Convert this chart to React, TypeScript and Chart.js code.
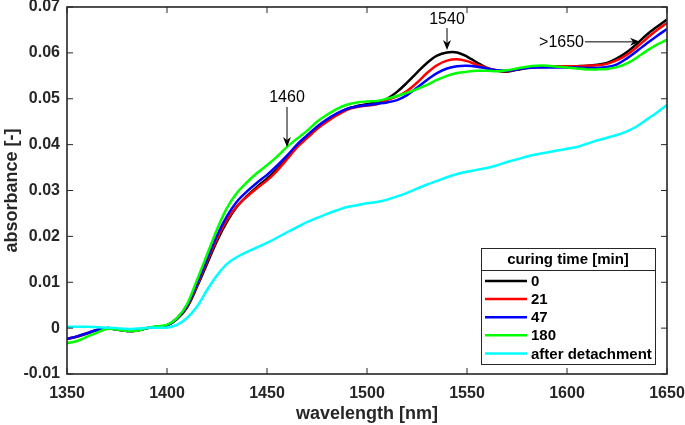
import React, { useEffect, useRef } from "react";
import { Chart, registerables } from "chart.js";

Chart.register(...registerables);

const wavelengths = [
  1350, 1355, 1360, 1365, 1370, 1375, 1380, 1385, 1390, 1395,
  1400, 1405, 1410, 1415, 1420, 1425, 1430, 1435, 1440, 1445,
  1450, 1455, 1460, 1465, 1470, 1475, 1480, 1485, 1490, 1495,
  1500, 1505, 1510, 1515, 1520, 1525, 1530, 1535, 1540, 1545,
  1550, 1555, 1560, 1565, 1570, 1575, 1580, 1585, 1590, 1595,
  1600, 1605, 1610, 1615, 1620, 1625, 1630, 1635, 1640, 1645,
  1650,
];

const abs0min = [
  -0.0024, -0.0019, -0.0012, -0.0004, 0.0, -0.0003, -0.0006, -0.0005, 0.0, 0.0003,
  0.0006, 0.002, 0.0045, 0.009, 0.014, 0.019, 0.0232, 0.0265, 0.0288, 0.0308,
  0.0326, 0.0346, 0.037, 0.0397, 0.0418, 0.0437, 0.0453, 0.0467, 0.0478, 0.0484,
  0.0488, 0.0493, 0.05, 0.0515, 0.0535, 0.0557, 0.0578, 0.0594, 0.0601, 0.0601,
  0.0592, 0.0579, 0.0567, 0.0561, 0.0559, 0.0563, 0.0567, 0.0569, 0.057, 0.057,
  0.057, 0.0571, 0.0572, 0.0574, 0.0578, 0.0588, 0.0602, 0.062, 0.064, 0.0657,
  0.0673,
];

const abs21min = [
  -0.0023, -0.0018, -0.0011, -0.0004, 0.0, -0.0003, -0.0006, -0.0005, 0.0, 0.0003,
  0.0006, 0.0021, 0.0047, 0.0093, 0.0145, 0.0195, 0.0236, 0.0266, 0.0287, 0.0305,
  0.0322, 0.0343, 0.0368, 0.0394, 0.0414, 0.0434, 0.045, 0.0464, 0.0476, 0.0482,
  0.0485, 0.0488, 0.0497, 0.0505, 0.0517, 0.0535, 0.0556, 0.0573, 0.0583, 0.0586,
  0.0582, 0.0574, 0.0567, 0.0562, 0.056, 0.0564, 0.0568, 0.057, 0.0571, 0.0571,
  0.0571, 0.0571, 0.0572, 0.0573, 0.0576, 0.0584, 0.0596, 0.0613, 0.0632, 0.065,
  0.0665,
];

const abs47min = [
  -0.0023, -0.0018, -0.0011, -0.0004, 0.0, -0.0003, -0.0006, -0.0005, 0.0, 0.0003,
  0.0006, 0.0021, 0.0049, 0.0097, 0.015, 0.0202, 0.0244, 0.0276, 0.0298, 0.0317,
  0.0334, 0.0354, 0.0376, 0.04, 0.042, 0.0439, 0.0455, 0.0468, 0.0478, 0.0483,
  0.0486, 0.0489, 0.0492, 0.0497, 0.0508, 0.0524, 0.0541, 0.0556, 0.0566, 0.0571,
  0.0572, 0.057, 0.0566, 0.0562, 0.0561, 0.0564, 0.0567, 0.0568, 0.0568, 0.0568,
  0.0568, 0.0568, 0.0567, 0.0567, 0.0569, 0.0575, 0.0588, 0.0604, 0.0621, 0.0637,
  0.0652,
];

const abs180min = [
  -0.0033, -0.0028, -0.0019, -0.001, -0.0002, -0.0003, -0.0006, -0.0006, 0.0, 0.0004,
  0.0007, 0.0022, 0.0052, 0.0105, 0.016, 0.0215, 0.0262, 0.0295, 0.0318, 0.0338,
  0.0355, 0.0374, 0.0395, 0.0413, 0.043, 0.045, 0.0465, 0.0478, 0.0487, 0.0492,
  0.0494, 0.0495, 0.05, 0.0506, 0.0513, 0.0521, 0.053, 0.0541, 0.055, 0.0556,
  0.0559, 0.0561, 0.0561, 0.056, 0.0562, 0.0566, 0.057, 0.0572, 0.0572, 0.057,
  0.0568, 0.0566, 0.0564, 0.0564, 0.0565, 0.0569, 0.0577, 0.059, 0.0605, 0.0618,
  0.0629,
];

const absDetached = [
  0.0003, 0.0003, 0.0003, 0.0002, 0.0001, 0.0, -0.0002, -0.0001, 0.0001, 0.0001,
  0.0001, 0.0007, 0.0022, 0.0047, 0.0083, 0.0115, 0.014, 0.0155, 0.0166, 0.0176,
  0.0186, 0.0197, 0.0209, 0.022, 0.0231, 0.024, 0.0249, 0.0257, 0.0264, 0.0268,
  0.0272, 0.0275, 0.028, 0.0287, 0.0295, 0.0304, 0.0313, 0.0321, 0.0329, 0.0336,
  0.0341, 0.0345, 0.0349, 0.0355, 0.0362, 0.0368, 0.0374, 0.0379, 0.0383, 0.0387,
  0.0391, 0.0395, 0.0402, 0.0409, 0.0415, 0.0421, 0.0429, 0.044, 0.0455, 0.047,
  0.0487,
];

const seriesValues = [abs0min, abs21min, abs47min, abs180min, absDetached];
const seriesLabels = ["0", "21", "47", "180", "after detachment"];
const seriesColors = ["#000000", "#ff0000", "#0000ff", "#00ff00", "#00ffff"];
const legendTitle = "curing time [min]";

const xTickValues = [1350, 1400, 1450, 1500, 1550, 1600, 1650];
const yTickValues = [-0.01, 0, 0.01, 0.02, 0.03, 0.04, 0.05, 0.06, 0.07];
const yTickLabels = ["-0.01", "0", "0.01", "0.02", "0.03", "0.04", "0.05", "0.06", "0.07"];

const xTitle = "wavelength [nm]";
const yTitle = "absorbance [-]";

// annotation arrows: text, tail point, tip point (data units)
const annotationTexts = ["1460", "1540", ">1650"];
const annotationTails = [
  [1460, 0.0482],
  [1540, 0.0654],
  [1609, 0.0624],
];
const annotationTips = [
  [1460, 0.0395],
  [1540, 0.0606],
  [1636.5, 0.0624],
];

const FONT = "'Liberation Sans', Arial, Helvetica, sans-serif";
const AXIS_COLOR = "#262626";

function drawArrow(ctx: CanvasRenderingContext2D, x1: number, y1: number, x2: number, y2: number) {
  const ang = Math.atan2(y2 - y1, x2 - x1);
  const headLen = 10;
  const headHalf = 4;
  const bx = x2 - headLen * Math.cos(ang);
  const by = y2 - headLen * Math.sin(ang);
  ctx.beginPath();
  ctx.moveTo(x1, y1);
  ctx.lineTo(bx + 3 * Math.cos(ang), by + 3 * Math.sin(ang));
  ctx.strokeStyle = "#000";
  ctx.lineWidth = 1;
  ctx.stroke();
  const nx = -Math.sin(ang);
  const ny = Math.cos(ang);
  ctx.beginPath();
  ctx.moveTo(x2, y2);
  ctx.lineTo(bx + nx * headHalf, by + ny * headHalf);
  ctx.lineTo(bx + 3 * Math.cos(ang), by + 3 * Math.sin(ang));
  ctx.lineTo(bx - nx * headHalf, by - ny * headHalf);
  ctx.closePath();
  ctx.fillStyle = "#000";
  ctx.fill();
}

const framePlugin = {
  id: "matlabFrame",
  afterDatasetsDraw(chart: any) {
    const ctx: CanvasRenderingContext2D = chart.ctx;
    const { left, right, top, bottom } = chart.chartArea;
    const xs = chart.scales.x;
    const ys = chart.scales.y;
    ctx.save();

    // annotations
    for (let i = 0; i < annotationTexts.length; i++) {
      const tx = xs.getPixelForValue(annotationTails[i][0]);
      const ty = ys.getPixelForValue(annotationTails[i][1]);
      const px = xs.getPixelForValue(annotationTips[i][0]);
      const py = ys.getPixelForValue(annotationTips[i][1]);
      drawArrow(ctx, tx, ty, px, py);
      ctx.fillStyle = "#000";
      ctx.font = `16px ${FONT}`;
      if (Math.abs(tx - px) < 1) {
        ctx.textAlign = "center";
        ctx.textBaseline = "bottom";
        ctx.fillText(annotationTexts[i], tx, ty - 1);
      } else {
        ctx.textAlign = "right";
        ctx.textBaseline = "middle";
        ctx.fillText(annotationTexts[i], tx - 1, ty + 1);
      }
    }

    // box
    ctx.strokeStyle = AXIS_COLOR;
    ctx.lineWidth = 1.6;
    ctx.strokeRect(left, top, right - left, bottom - top);
    const tl = 6;
    ctx.beginPath();
    for (const v of xTickValues) {
      const x = xs.getPixelForValue(v);
      ctx.moveTo(x, bottom);
      ctx.lineTo(x, bottom - tl);
      ctx.moveTo(x, top);
      ctx.lineTo(x, top + tl);
    }
    for (const v of yTickValues) {
      const y = ys.getPixelForValue(v);
      ctx.moveTo(left, y);
      ctx.lineTo(left + tl, y);
      ctx.moveTo(right, y);
      ctx.lineTo(right - tl, y);
    }
    ctx.lineWidth = 1;
    ctx.stroke();

    // legend
    const lx = 481, ly = 248, lw = 174, lh = 116;
    ctx.fillStyle = "#ffffff";
    ctx.fillRect(lx, ly, lw, lh);
    ctx.strokeStyle = AXIS_COLOR;
    ctx.lineWidth = 1;
    ctx.strokeRect(lx + 0.5, ly + 0.5, lw, lh);
    ctx.beginPath();
    ctx.moveTo(lx, ly + 22.5);
    ctx.lineTo(lx + lw, ly + 22.5);
    ctx.stroke();
    ctx.fillStyle = "#000";
    ctx.font = `bold 15px ${FONT}`;
    ctx.textAlign = "center";
    ctx.textBaseline = "middle";
    ctx.fillText(legendTitle, lx + lw / 2, ly + 12);
    ctx.textAlign = "left";
    chart.data.datasets.forEach((ds: any, i: number) => {
      const y = ly + 33 + i * 18.1;
      ctx.beginPath();
      ctx.moveTo(lx + 4, y);
      ctx.lineTo(lx + 46, y);
      ctx.strokeStyle = ds.borderColor;
      ctx.lineWidth = 2.5;
      ctx.stroke();
      ctx.fillStyle = "#000";
      ctx.fillText(ds.label, lx + 50, y + 1);
    });
    ctx.restore();
  },
};

export default function App() {
  const canvasRef = useRef<HTMLCanvasElement | null>(null);

  useEffect(() => {
    if (!canvasRef.current) return;
    const datasets = seriesValues.map((vals, i) => ({
      label: seriesLabels[i],
      data: wavelengths.map((w, j) => ({ x: w, y: vals[j] })),
      borderColor: seriesColors[i],
      backgroundColor: seriesColors[i],
      borderWidth: 2.5,
      pointRadius: 0,
      tension: 0.35,
      fill: false,
      order: seriesValues.length - i,
    }));
    const chart = new Chart(canvasRef.current, {
      type: "line",
      data: { datasets },
      options: {
        animation: false,
        responsive: false,
        maintainAspectRatio: false,
        layout: { padding: { top: 7, right: 18, left: 0, bottom: 0 } },
        plugins: { legend: { display: false }, tooltip: { enabled: false } },
        scales: {
          x: {
            type: "linear",
            min: 1350,
            max: 1650,
            grid: { display: false, drawTicks: false },
            border: { display: false },
            afterBuildTicks: (scale: any) => {
              scale.ticks = xTickValues.map((v) => ({ value: v }));
            },
            ticks: {
              color: AXIS_COLOR,
              font: { family: FONT, size: 16, weight: "bold" },
              padding: 10,
              maxRotation: 0,
              autoSkip: false,
              callback: (v: any) => String(v),
            },
            title: {
              display: true,
              text: xTitle,
              color: AXIS_COLOR,
              font: { family: FONT, size: 18, weight: "bold" },
              padding: { top: 0, bottom: 0 },
            },
            afterFit: (scale: any) => {
              scale.height = 51;
              scale.paddingLeft = 0;
              scale.paddingRight = 0;
            },
          },
          y: {
            type: "linear",
            min: -0.01,
            max: 0.07,
            grid: { display: false, drawTicks: false },
            border: { display: false },
            afterBuildTicks: (scale: any) => {
              scale.ticks = yTickValues.map((v) => ({ value: v }));
            },
            ticks: {
              color: AXIS_COLOR,
              font: { family: FONT, size: 16, weight: "bold" },
              padding: 7,
              autoSkip: false,
              callback: (v: any) => {
                const idx = yTickValues.findIndex((t) => Math.abs(t - v) < 1e-9);
                return idx >= 0 ? yTickLabels[idx] : "";
              },
            },
            title: {
              display: true,
              text: yTitle,
              color: AXIS_COLOR,
              font: { family: FONT, size: 18, weight: "bold" },
              padding: { top: 1.5, bottom: 0 },
            },
            afterFit: (scale: any) => {
              scale.width = 67;
              scale.paddingTop = 0;
              scale.paddingBottom = 0;
            },
          },
        },
      },
      plugins: [framePlugin],
    } as any);
    return () => chart.destroy();
  }, []);

  return (
    <div style={{ position: "absolute", left: 0, top: 0, width: 685, height: 425, background: "#fff" }}>
      <canvas ref={canvasRef} width={685} height={425} style={{ display: "block" }} />
    </div>
  );
}
